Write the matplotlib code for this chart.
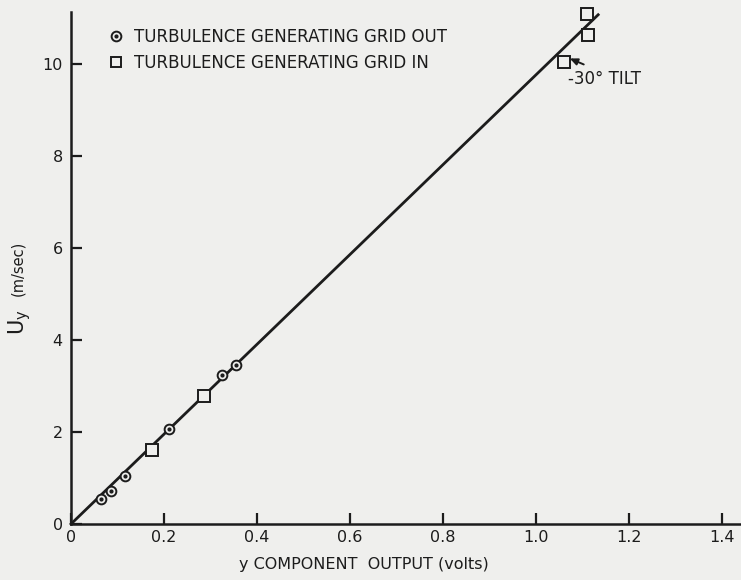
import matplotlib
matplotlib.use("Agg")
import matplotlib.pyplot as plt
from matplotlib.lines import Line2D
from matplotlib.legend_handler import HandlerTuple

# Data
grid_out_x = [0.065, 0.085, 0.115, 0.211, 0.325, 0.355]
grid_out_y = [0.54, 0.72, 1.05, 2.07, 3.23, 3.45]
grid_in_x = [0.175, 0.285, 1.059, 1.111, 1.109]
grid_in_y = [1.60, 2.78, 10.05, 10.62, 11.09]
fit_x = [0.0, 1.133]
fit_y = [0.0, 11.07]
xticks = [0, 0.2, 0.4, 0.6, 0.8, 1.0, 1.2, 1.4]
xtick_labels = ["0", "0.2", "0.4", "0.6", "0.8", "1.0", "1.2", "1.4"]
yticks = [0, 2, 4, 6, 8, 10]
ytick_labels = ["0", "2", "4", "6", "8", "10"]

ink = "#1c1c1c"
paper = "#efefed"

fig = plt.figure(figsize=(7.41, 5.80), dpi=100, facecolor=paper)
ax = fig.add_axes([71 / 741, 56 / 580, 670 / 741, 512 / 580])
ax.set_facecolor(paper)

ax.plot(fit_x, fit_y, color=ink, lw=2.0, zorder=2, clip_on=False)
ax.plot(grid_out_x, grid_out_y, ls="none", marker="o", ms=7, mfc=paper,
        mec=ink, mew=1.4, zorder=3, clip_on=False)
ax.plot(grid_out_x, grid_out_y, ls="none", marker="o", ms=2, mfc=ink,
        mec=ink, zorder=4, clip_on=False)
ax.plot(grid_in_x, grid_in_y, ls="none", marker="s", ms=8, mfc=paper,
        mec=ink, mew=1.4, zorder=3, clip_on=False)

ax.set_xlim(0, 1.44)
ax.set_ylim(0, 11.13)
ax.set_xticks(xticks)
ax.set_xticklabels(xtick_labels)
ax.set_yticks(yticks)
ax.set_yticklabels(ytick_labels)
for s in ["top", "right"]:
    ax.spines[s].set_visible(False)
for s in ["left", "bottom"]:
    ax.spines[s].set_linewidth(1.8)
    ax.spines[s].set_color(ink)
ax.tick_params(direction="in", length=8, width=1.6, color=ink,
               labelsize=11.5, labelcolor=ink, pad=4)
ax.tick_params(axis="y", pad=6)

# Legend
h_circ = Line2D([], [], ls="none", marker="o", ms=7, mfc=paper, mec=ink, mew=1.4)
h_dot = Line2D([], [], ls="none", marker="o", ms=2, mfc=ink, mec=ink)
h_sq = Line2D([], [], ls="none", marker="s", ms=7, mfc=paper, mec=ink, mew=1.4)
leg = ax.legend([(h_circ, h_dot), h_sq],
                ["TURBULENCE GENERATING GRID OUT", "TURBULENCE GENERATING GRID IN"],
                handler_map={tuple: HandlerTuple(ndivide=1, pad=0)},
                loc="upper left", bbox_to_anchor=(0.045, 0.985),
                frameon=False, fontsize=12, handlelength=0.8, handletextpad=0.7,
                labelspacing=0.45, borderpad=0)
for t in leg.get_texts():
    t.set_color(ink)

# Annotation
ax.annotate("", xy=(1.072, 10.12), xytext=(1.102, 9.99),
            arrowprops=dict(arrowstyle="-|>,head_length=0.45,head_width=0.2",
                            color=ink, lw=1.4, shrinkA=0, shrinkB=0))
ax.text(1.069, 9.67, "-30° TILT", fontsize=12, color=ink, va="center", ha="left")

# Axis labels
fig.text(364 / 741, 1 - 565 / 580, "y COMPONENT  OUTPUT (volts)", fontsize=11.5,
         color=ink, ha="center", va="center")
fig.text(20 / 741, 1 - 322 / 580, r"U$_\mathregular{y}$", fontsize=15, color=ink,
         rotation=90, ha="center", va="center")
fig.text(18 / 741, 1 - 268 / 580, "(m/sec)", fontsize=10.5, color=ink,
         rotation=90, ha="center", va="center")

fig.savefig("out.png", dpi=100, facecolor=paper)
